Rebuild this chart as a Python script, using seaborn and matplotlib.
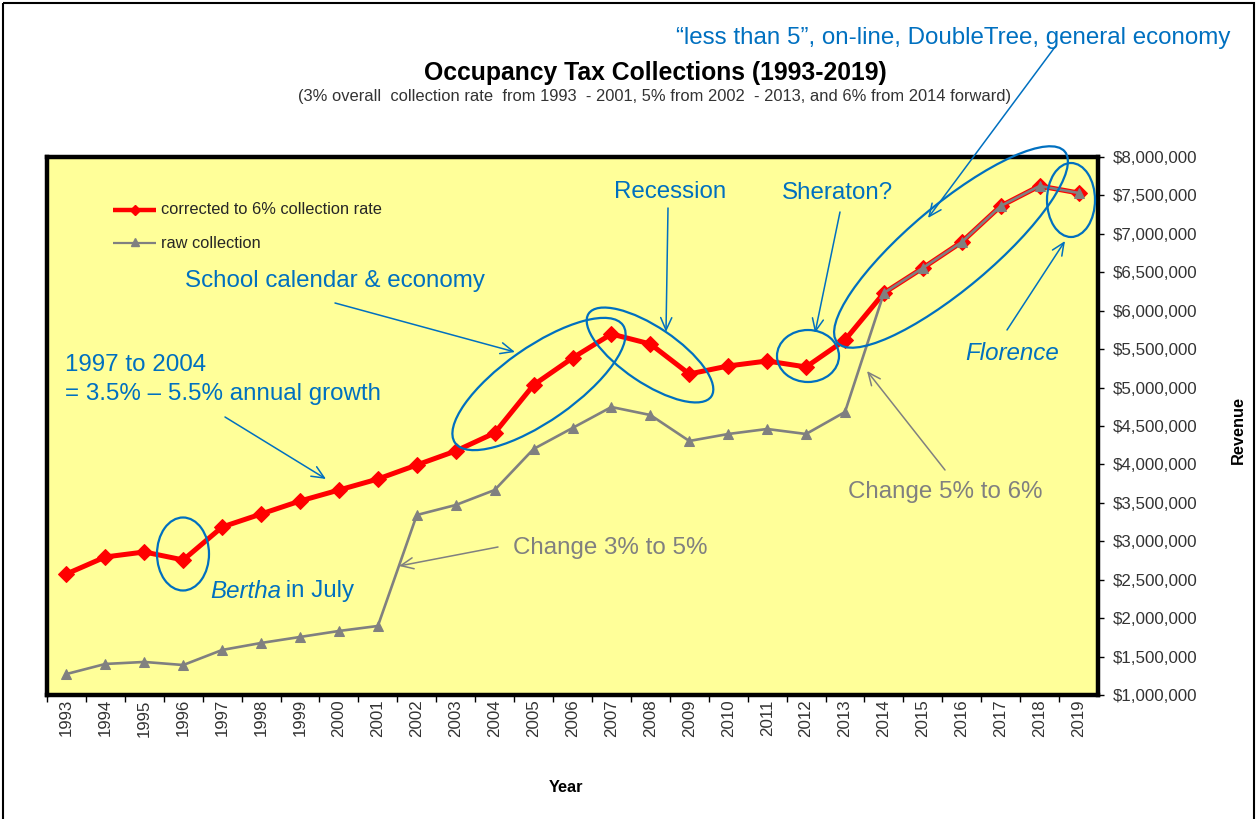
import matplotlib
matplotlib.use("Agg")
import matplotlib.pyplot as plt
from matplotlib.patches import Ellipse, Rectangle, FancyArrowPatch
from matplotlib.transforms import Affine2D
from matplotlib.ticker import FuncFormatter, FixedLocator
import numpy as np
import pandas as pd
import seaborn as sns

# Occupancy tax collections, 1993-2019
years = list(range(1993, 2020))
corrected = [2575000, 2796000, 2861000, 2757000, 3186000, 3355000, 3524000, 3667000,
             3810000, 3993000, 4175000, 4409000, 5034000, 5385000, 5697000, 5567000,
             5177000, 5281000, 5346000, 5268000, 5619000, 6231000, 6556000, 6894000,
             7362000, 7623000, 7532000]
raw = [1273000, 1404000, 1430000, 1390000, 1586000, 1677000, 1755000, 1833000,
       1898000, 3342000, 3472000, 3667000, 4201000, 4474000, 4747000, 4643000,
       4305000, 4396000, 4461000, 4396000, 4682000, 6231000, 6556000, 6894000,
       7362000, 7623000, 7532000]
y_ticks = list(range(1000000, 8000001, 500000))

sns.set_theme(style="white")
plt.rcParams["font.family"] = ["Liberation Sans", "DejaVu Sans"]

W, H = 1257, 819
fig = plt.figure(figsize=(W / 100, H / 100), dpi=100, facecolor="white")
# pixel coordinates measured from the top-left corner of the figure
PX = Affine2D().scale(1.0 / W, -1.0 / H).translate(0, 1) + fig.transFigure

ax = fig.add_axes([47 / W, 1 - 695 / H, (1098 - 47) / W, (695 - 157) / H])
ax.set_facecolor("#FFFF99")

df = pd.DataFrame({"year": years, "corrected": corrected, "raw": raw})

sns.lineplot(data=df, x="year", y="corrected", ax=ax, color="#FF0000", lw=3.6,
             marker="D", markersize=8.5, markeredgecolor="#FF0000", zorder=3)
sns.lineplot(data=df, x="year", y="raw", ax=ax, color="#808080", lw=1.9,
             marker="^", markersize=7.5, markeredgecolor="#808080", zorder=4)

ax.set_xlim(years[0] - 0.5, years[-1] + 0.5)
ax.set_ylim(y_ticks[0], y_ticks[-1])

# y axis on the right with currency labels
ax.yaxis.tick_right()
ax.set_yticks(y_ticks)
ax.yaxis.set_major_formatter(FuncFormatter(lambda v, p: f"${v:,.0f}"))
ax.tick_params(axis="y", which="major", right=True, left=False, direction="out",
               length=4, width=1, color="black", labelsize=12.2,
               labelcolor="#333333", pad=7)

# category-style x axis: labels at years, tick marks between them
ax.set_xticks(years)
ax.set_xticklabels([str(y) for y in years], rotation=90)
ax.xaxis.set_minor_locator(FixedLocator([y + 0.5 for y in years[:-1]] + [years[0] - 0.5]))
ax.tick_params(axis="x", which="major", bottom=True, length=0, labelsize=12.2,
               labelcolor="#333333", pad=3)
ax.tick_params(axis="x", which="minor", bottom=True, direction="out", length=5,
               width=1, color="black")

ax.set_xlabel("")
ax.set_ylabel("")
ax.grid(False)
for s in ax.spines.values():
    s.set_visible(True)
    s.set_color("black")
    s.set_linewidth(3.2)

# axis titles
fig.text(566, 788, "Year", transform=PX, ha="center", va="center",
         fontsize=11.8, fontweight="bold", color="black")
fig.text(1238, 430, "Revenue", transform=PX, ha="center", va="center",
         rotation=90, fontsize=11.8, fontweight="bold", color="black")

# titles
fig.text(655, 73, "Occupancy Tax Collections (1993-2019)", transform=PX,
         ha="center", va="center", fontsize=17.8, fontweight="bold", color="black")
fig.text(655, 96, "(3% overall  collection rate  from 1993  - 2001, 5% from 2002  - 2013, and 6% from 2014 forward)",
         transform=PX, ha="center", va="center", fontsize=11.9, color="#333333")

# legend drawn as sample lines with labels
fig.add_artist(plt.Line2D([113, 156], [210, 210], transform=PX, color="#FF0000",
                          lw=3.2, solid_capstyle="butt"))
fig.add_artist(plt.Line2D([134.5], [210], transform=PX, color="#FF0000",
                          marker="D", markersize=5, lw=0))
fig.add_artist(plt.Line2D([113, 156], [243, 243], transform=PX, color="#808080",
                          lw=1.6, solid_capstyle="butt"))
fig.add_artist(plt.Line2D([134.5], [242], transform=PX, color="#808080",
                          marker="^", markersize=6, lw=0))
fig.text(161, 210, "corrected to 6% collection rate", transform=PX, ha="left",
         va="center", fontsize=11.8, color="#262626")
fig.text(161, 243, "raw collection", transform=PX, ha="left", va="center",
         fontsize=11.8, color="#262626")

# commentary
BLUE = "#0070C0"
GRAY = "#808080"
FS = 17.4


def note(x, y, s, color=BLUE, ha="left", style="normal"):
    return fig.text(x, y, s, transform=PX, ha=ha, va="center", fontsize=FS,
                    color=color, style=style)


def arrow(x0, y0, x1, y1, color=BLUE):
    fig.add_artist(FancyArrowPatch(
        (x0, y0), (x1, y1), transform=PX, arrowstyle="->,head_length=9,head_width=4",
        mutation_scale=1, color=color, lw=1.1, shrinkA=0, shrinkB=0))


def ring(cx, cy, w, h, angle=0):
    fig.add_artist(Ellipse((cx, cy), w, h, angle=angle, transform=PX, fill=False,
                           edgecolor=BLUE, lw=1.6))


note(1230, 38, "\u201cless than 5\u201d, on-line, DoubleTree, general economy", ha="right")
note(670, 192, "Recession", ha="center")
note(837, 193, "Sheraton?", ha="center")
note(185, 281, "School calendar & economy")
note(65, 365, "1997 to 2004")
note(65, 394, "= 3.5% \u2013 5.5% annual growth")
bertha = note(210, 591, "Bertha", style="italic")
note(965, 353, "Florence", style="italic")
note(513, 548, "Change 3% to 5%", color=GRAY)
note(848, 492, "Change 5% to 6%", color=GRAY)

fig.canvas.draw()
bb = bertha.get_window_extent()
x_after = bb.x1 * W / (fig.dpi * fig.get_figwidth())
note(x_after - 2, 591, " in July")

arrow(1055, 47, 928, 218)
arrow(668, 208, 666, 332)
arrow(840, 212, 815, 333)
arrow(335, 303, 515, 352)
arrow(225, 417, 326, 479)
arrow(1007, 330, 1065, 241)
arrow(498, 547, 399, 566, color=GRAY)
arrow(945, 470, 867, 371, color=GRAY)

ring(183, 554, 52, 73)
ring(539, 384, 205, 74, angle=-35)
ring(650, 355, 148, 56, angle=34)
ring(808, 356, 62, 52)
ring(951, 247, 297, 84, angle=-40)
ring(1071, 200, 48, 74)

# outer frame around the whole chart
fig.add_artist(Rectangle((3, 3), W - 6, H + 20, transform=PX, fill=False,
                         edgecolor="black", lw=1.5))

fig.savefig("out.png", dpi=100, facecolor="white")
